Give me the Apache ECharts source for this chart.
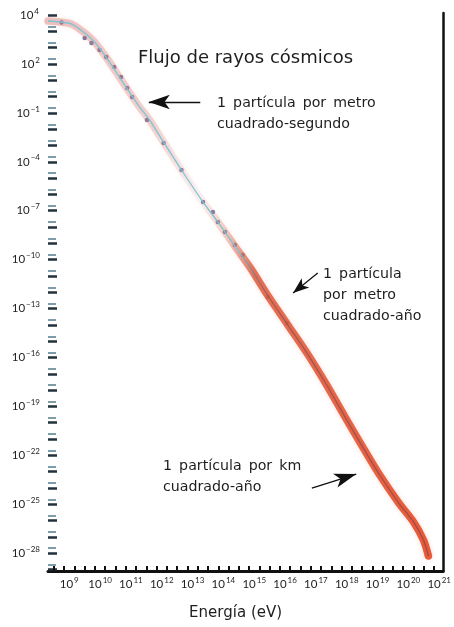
<!DOCTYPE html>
<html>
<head>
<meta charset="utf-8">
<script src="https://cdn.jsdelivr.net/npm/echarts@6/dist/echarts.min.js"></script>
<style>
  html, body { margin: 0; padding: 0; background: #fff; }
  #chart { width: 454px; height: 627px; }
</style>
</head>
<body>
<div id="chart"></div>
<script>
// Espectro de rayos cósmicos: log10(energía / eV) frente a log10(flujo)
const energyExp = [8.31, 8.70, 9.08, 9.46, 9.82, 10.17, 10.52, 10.88, 11.26, 11.58,
  12.06, 12.64, 13.34, 13.82, 14.37, 14.88, 15.43, 16.07, 16.71, 17.35,
  17.93, 18.54, 19.05, 19.69, 20.17, 20.49, 20.65];
const fluxExp = [4.64, 4.58, 4.45, 3.96, 3.35, 2.49, 1.51, 0.47, -0.58, -1.37,
  -2.79, -4.50, -6.47, -7.69, -9.17, -10.52, -12.17, -13.95, -15.73, -17.69,
  -19.60, -21.56, -23.15, -24.93, -26.10, -27.20, -28.18];

// Puntos medidos sobre la curva
const measuredE = [8.75, 9.50, 9.72, 9.98, 10.20, 10.46, 10.68, 10.88, 11.04, 11.52,
  12.06, 12.64, 13.34, 13.66, 13.82, 14.05, 14.37, 14.63, 15.43, 16.07];
const measuredF = [4.55, 3.60, 3.29, 2.86, 2.43, 1.82, 1.20, 0.53, -0.02, -1.44,
  -2.85, -4.50, -6.47, -7.08, -7.69, -8.31, -9.10, -9.72, -12.29, -13.89];

// Etiquetas de los ejes (exponentes de 10)
const xLabelExp = [9, 10, 11, 12, 13, 14, 15, 16, 17, 18, 19, 20, 21];
const yLabelExp = [-28, -25, -22, -19, -16, -13, -10, -7, -4, -1, 2];
const yTopLabelExp = 4;

// Anotaciones: [energía cola, flujo cola, energía punta, flujo punta]
const arrows = [
  [13.25, -0.33, 11.58, -0.33],
  [17.06, -10.82, 16.26, -12.05],
  [16.87, -24.01, 18.31, -23.15]
];
const arrowHeads = [[11, 21], [9, 16], [11, 22]];
const notes = [
  '1 partícula por metro\ncuadrado-segundo',
  '1 partícula\npor metro\ncuadrado-año',
  '1 partícula por km\ncuadrado-año'
];

const X_MIN = 8.31, X_MAX = 21.13, Y_MIN = -29.1, Y_MAX = 5.13;
const FONT = '"DejaVu Sans", Verdana, sans-serif';
const NUM_FONT = 'Lato, "Open Sans", sans-serif';
const TXT = '#1e1e1e';

const points = energyExp.map((e, i) => [e, fluxExp[i]]);
const measured = measuredE.map((e, i) => [e, measuredF[i]]);

const powRich = {
  b: { fontSize: 11.5, color: TXT, fontFamily: NUM_FONT, lineHeight: 16 },
  s: { fontSize: 8, color: TXT, fontFamily: NUM_FONT, lineHeight: 8, verticalAlign: 'top', padding: [0, 0, 0, 1] }
};
const fmtPow = v => '{b|10}{s|' + String(Math.round(v)).replace('-', '\u2212') + '}';
// espacios algo más anchos entre palabras, como en el rótulo impreso
const wide = s => s.replace(/ /g, '\u2002');

const xTicks = [];
for (let t = 8.5; t < X_MAX; t += 1 / 3) xTicks.push(+t.toFixed(3));
const yTicksMain = [], yTicksPair = [];
for (let t = -29; t <= 5; t++) { yTicksMain.push(t); yTicksPair.push(t + 0.3); }

const noteStyle = { fontSize: 14.2, lineHeight: 21, fill: TXT, fontFamily: FONT };

const chart = echarts.init(document.getElementById('chart'), null, { renderer: 'canvas' });

chart.setOption({
  animation: false,
  backgroundColor: '#ffffff',
  title: {
    text: 'Flujo de rayos cósmicos',
    left: 133, top: 44,
    textStyle: { fontSize: 18, fontWeight: 'normal', color: TXT, fontFamily: FONT }
  },
  grid: { left: 48, right: 6, top: 13, bottom: 56 },
  xAxis: {
    type: 'value', min: X_MIN, max: X_MAX,
    name: 'Energía (eV)', nameLocation: 'middle', nameGap: 35,
    nameTextStyle: { fontSize: 15, color: TXT, fontFamily: FONT, padding: [0, 20, 0, 0] },
    axisLine: { onZero: false, lineStyle: { color: '#111', width: 3 } },
    axisTick: { show: true, inside: true, length: 5, customValues: xTicks, lineStyle: { color: '#111', width: 2 } },
    axisLabel: { customValues: xLabelExp, formatter: fmtPow, rich: powRich, margin: 5 },
    splitLine: { show: false }
  },
  yAxis: [{
    type: 'value', min: Y_MIN, max: Y_MAX,
    name: '{b|10}{s|' + yTopLabelExp + '}', nameLocation: 'end', nameGap: 0,
    nameTextStyle: { align: 'right', verticalAlign: 'middle', padding: [4, 9, 0, 0], rich: powRich },
    axisLine: { show: false, onZero: false },
    axisTick: { show: true, inside: true, length: 9, customValues: yTicksMain, lineStyle: { color: '#22323c', width: 2.5 } },
    axisLabel: { customValues: yLabelExp, formatter: fmtPow, rich: powRich, margin: 8 },
    splitLine: { show: false }
  }, {
    type: 'value', min: Y_MIN, max: Y_MAX, position: 'left',
    axisLine: { show: false, onZero: false },
    axisTick: { show: true, inside: true, length: 8, customValues: yTicksPair, lineStyle: { color: '#7d9dab', width: 2 } },
    axisLabel: { show: false },
    splitLine: { show: false }
  }, {
    type: 'value', min: Y_MIN, max: Y_MAX, position: 'right',
    axisLine: { show: true, onZero: false, lineStyle: { color: '#111', width: 2.5 } },
    axisTick: { show: false }, axisLabel: { show: false }, splitLine: { show: false }
  }],
  series: [{
    name: 'banda',
    type: 'line', data: points, smooth: 0.3, showSymbol: false, silent: true,
    lineStyle: {
      width: 7.5, cap: 'round',
      color: {
        type: 'linear', x: 0, y: 0, x2: 1, y2: 0,
        colorStops: [
          { offset: 0, color: 'rgba(215,120,120,0.42)' },
          { offset: 0.28, color: 'rgba(215,125,125,0.30)' },
          { offset: 0.40, color: 'rgba(225,160,160,0.12)' },
          { offset: 0.47, color: 'rgba(220,120,100,0.35)' },
          { offset: 0.54, color: 'rgba(224,92,62,0.85)' },
          { offset: 1, color: 'rgba(230,78,42,0.92)' }
        ]
      },
      shadowBlur: 4, shadowColor: 'rgba(230,120,90,0.35)'
    }
  }, {
    name: 'flujo',
    type: 'line', data: points, smooth: 0.3, showSymbol: false, silent: true,
    lineStyle: {
      width: 1.3,
      color: {
        type: 'linear', x: 0, y: 0, x2: 1, y2: 0,
        colorStops: [
          { offset: 0, color: '#7cc4d4' },
          { offset: 0.5, color: '#7cc4d4' },
          { offset: 0.58, color: 'rgba(110,70,80,0.55)' },
          { offset: 1, color: 'rgba(100,60,80,0.55)' }
        ]
      }
    },
    markLine: {
      silent: true, animation: false,
      label: { show: false },
      lineStyle: { color: '#111', width: 1.3, type: 'solid' },
      data: arrows.map((a, i) => [
        { coord: [a[0], a[1]], symbol: 'none' },
        { coord: [a[2], a[3]], symbol: 'arrow', symbolSize: arrowHeads[i] }
      ])
    }
  }, {
    name: 'mediciones',
    type: 'scatter', data: measured, symbolSize: 4.5, silent: true,
    itemStyle: { color: '#47528a', opacity: 0.78 }
  }],
  graphic: [
    { type: 'text', left: 217, top: 93, style: Object.assign({ text: wide(notes[0]) }, noteStyle) },
    { type: 'text', left: 323, top: 264, style: Object.assign({ text: wide(notes[1]) }, noteStyle) },
    { type: 'text', left: 163, top: 456, style: Object.assign({ text: wide(notes[2]) }, noteStyle) }
  ]
});
</script>
</body>
</html>
